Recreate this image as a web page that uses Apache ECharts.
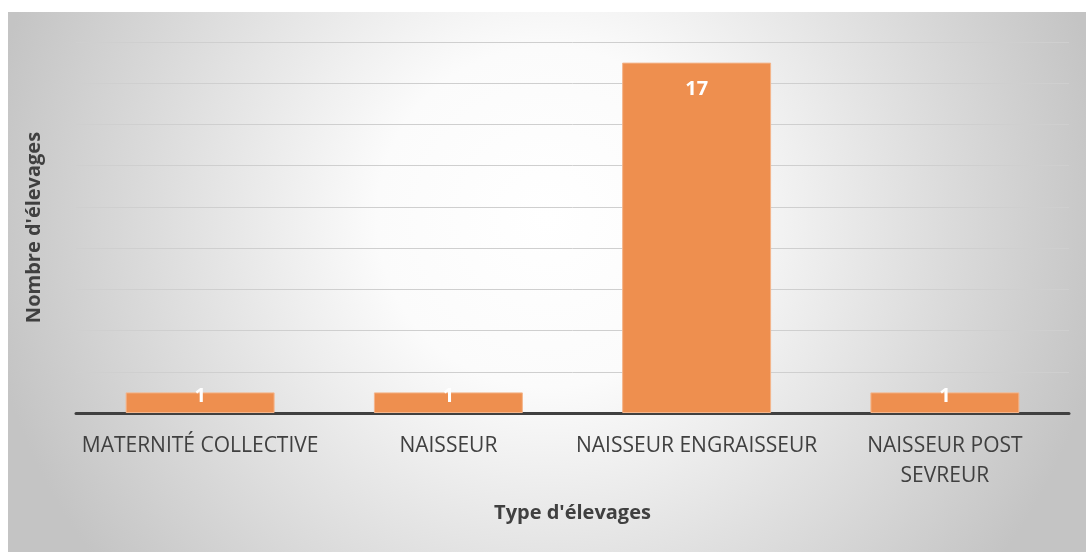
<!DOCTYPE html>
<html>
<head>
<meta charset="utf-8">
<script src="https://cdn.jsdelivr.net/npm/echarts@6/dist/echarts.min.js"></script>
<style>
	html, body { margin: 0; padding: 0; background: #ffffff; }
	#chart { position: absolute; left: 8px; top: 12px; width: 1078px; height: 540px; }
</style>
</head>
<body>
<div id="chart"></div>
<script>
/* données */
const categories = ['MATERNITÉ COLLECTIVE', 'NAISSEUR', 'NAISSEUR ENGRAISSEUR', 'NAISSEUR POST\nSEVREUR'];
const counts = [1, 1, 17, 1];
const yTicks = [0, 18, 2]; // min, max, pas

const font = '"Open Sans", "DejaVu Sans", sans-serif';
const textColor = '#404040';

const chart = echarts.init(document.getElementById('chart'));

chart.setOption({
	backgroundColor: {
		type: 'radial',
		x: 0.5,
		y: 0.38,
		r: 1.05,
		colorStops: [
			{ offset: 0, color: '#ffffff' },
			{ offset: 0.3, color: '#fbfbfb' },
			{ offset: 1, color: '#c4c4c4' }
		]
	},
	animation: false,
	grid: {
		left: 68,
		right: 17,
		top: 30,
		bottom: 139
	},
	xAxis: {
		type: 'category',
		data: categories,
		name: "Type d'élevages",
		nameLocation: 'middle',
		nameGap: 90,
		nameTextStyle: {
			fontFamily: font,
			fontSize: 20,
			fontWeight: 'bold',
			color: textColor
		},
		axisTick: { show: false },
		axisLine: {
			lineStyle: { color: '#404040', width: 3 }
		},
		axisLabel: {
			interval: 0,
			fontFamily: font,
			fontSize: 21,
			color: textColor,
			margin: 18,
			lineHeight: 30
		}
	},
	yAxis: {
		type: 'value',
		min: yTicks[0],
		max: yTicks[1],
		interval: yTicks[2],
		name: "Nombre d'élevages",
		nameLocation: 'middle',
		nameGap: 32,
		nameTextStyle: {
			fontFamily: font,
			fontSize: 20,
			fontWeight: 'bold',
			color: textColor
		},
		axisLabel: { show: false },
		axisLine: { show: false },
		axisTick: { show: false },
		splitLine: {
			lineStyle: { color: '#cfcfcf', width: 1 }
		}
	},
	series: [
		{
			type: 'bar',
			barCategoryGap: '40%',
			itemStyle: {
				color: '#ee8f4f',
				borderColor: '#f4b58b',
				borderWidth: 1
			},
			label: {
				show: true,
				color: '#ffffff',
				fontFamily: font,
				fontSize: 20,
				fontWeight: 'bold'
			},
			data: counts.map(v => ({
				value: v,
				label: v >= 3
					? { position: 'insideTop', distance: 17 }
					: { position: 'insideBottom', distance: 7 }
			}))
		}
	]
});
</script>
</body>
</html>
